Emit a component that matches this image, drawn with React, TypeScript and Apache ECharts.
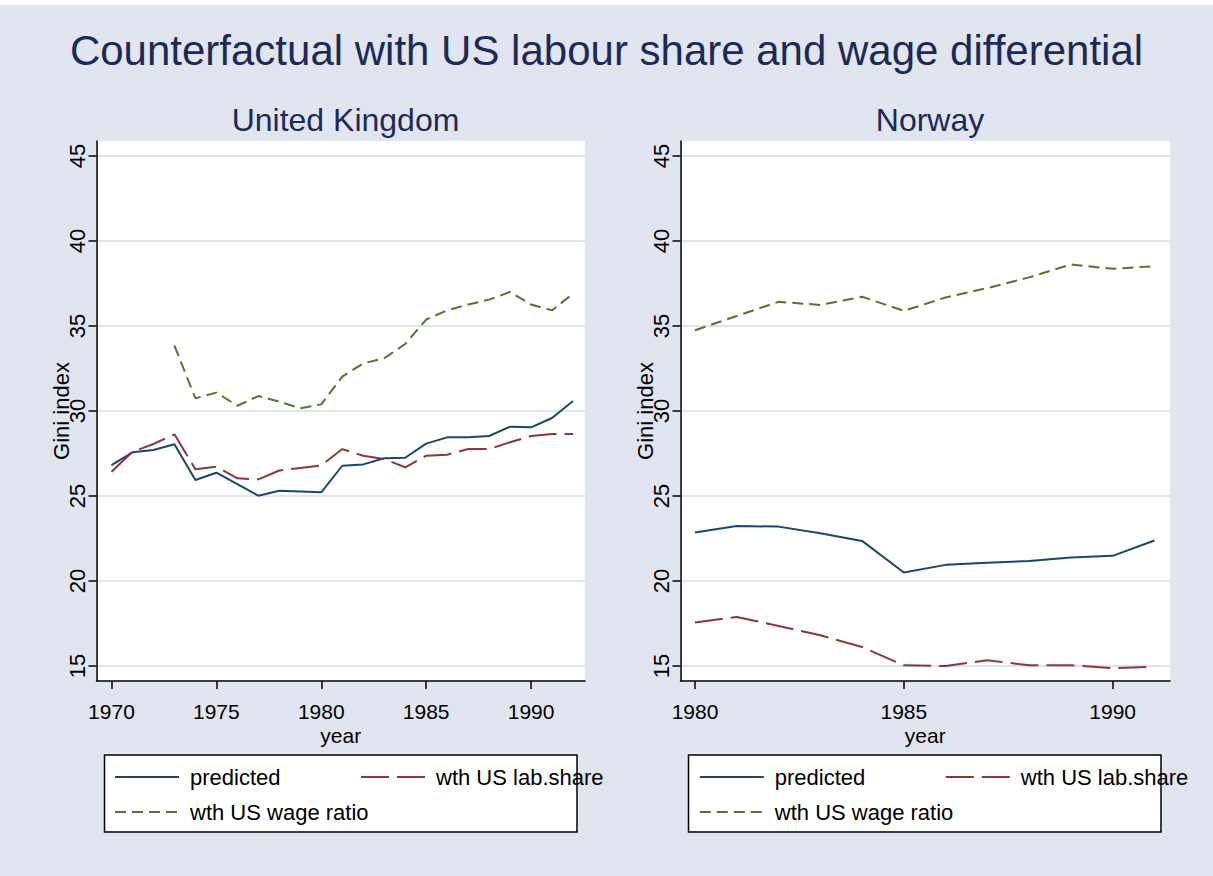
import React, { useEffect, useRef } from "react";
import * as echarts from "echarts";

// ---------- data ----------
const ukYears = [1970, 1971, 1972, 1973, 1974, 1975, 1976, 1977, 1978, 1979, 1980, 1981, 1982, 1983, 1984, 1985, 1986, 1987, 1988, 1989, 1990, 1991, 1992];
const ukPredicted = [26.82, 27.57, 27.71, 28.04, 25.94, 26.37, 25.7, 25.02, 25.31, 25.27, 25.22, 26.78, 26.86, 27.22, 27.25, 28.08, 28.45, 28.45, 28.53, 29.08, 29.04, 29.59, 30.59];
const ukLabShare = [26.43, 27.6, 28.06, 28.63, 26.57, 26.72, 26.04, 25.98, 26.5, 26.65, 26.8, 27.76, 27.37, 27.18, 26.69, 27.37, 27.43, 27.76, 27.76, 28.16, 28.53, 28.65, 28.65];
const ukWageRatio = [null, null, null, 33.84, 30.75, 31.08, 30.31, 30.88, 30.55, 30.16, 30.39, 32.02, 32.8, 33.1, 33.94, 35.38, 35.92, 36.26, 36.55, 37.0, 36.26, 35.92, 36.9];

const noYears = [1980, 1981, 1982, 1983, 1984, 1985, 1986, 1987, 1988, 1989, 1990, 1991];
const noPredicted = [22.85, 23.24, 23.2, 22.81, 22.36, 20.5, 20.95, 21.08, 21.18, 21.38, 21.48, 22.38];
const noLabShare = [17.56, 17.89, 17.36, 16.81, 16.12, 15.04, 15.0, 15.34, 15.04, 15.04, 14.88, 14.96];
const noWageRatio = [34.75, 35.59, 36.42, 36.24, 36.72, 35.89, 36.68, 37.23, 37.86, 38.62, 38.36, 38.52];

const yTicks = [15, 20, 25, 30, 35, 40, 45];
const ukXTicks = [1970, 1975, 1980, 1985, 1990];
const noXTicks = [1980, 1985, 1990];

const seriesNames = ["predicted", "wth US lab.share", "wth US wage ratio"];
const mainTitle = "Counterfactual with US labour share and wage differential";
const panelTitles = ["United Kingdom", "Norway"];
const yName = "Gini index";
const xName = "year";

// ---------- styles ----------
const FONT = "'Liberation Sans', Arial, Helvetica, sans-serif";
const BG = "#e0e5f0";
const NAVY = "#1a476f";
const MAROON = "#90353b";
const GREEN = "#55752f";
const TITLE_COLOR = "#1e2a55";
const GRID_COLOR = "#dfe4ef";

function pairs(years: number[], vals: (number | null)[]) {
  const out: [number, number][] = [];
  years.forEach((y, i) => {
    const v = vals[i];
    if (v !== null && v !== undefined) out.push([y, v]);
  });
  return out;
}

function yAxis(gridIndex: number) {
  return {
    type: "value",
    gridIndex,
    min: 14.12,
    max: 45.88,
    name: yName,
    nameLocation: "middle",
    nameGap: 24,
    nameMoveOverlap: false,
    nameTextStyle: { fontSize: 22, color: "#000", fontFamily: FONT },
    axisLine: { show: true, lineStyle: { color: "#000", width: 1.5 } },
    axisTick: { show: true, length: 8, lineStyle: { color: "#000", width: 1.5 }, customValues: yTicks },
    axisLabel: {
      rotate: 90,
      margin: 8,
      fontSize: 22,
      color: "#000",
      fontFamily: FONT,
      customValues: yTicks,
      formatter: (v: number) => String(v),
    },
    splitLine: { show: true, lineStyle: { color: GRID_COLOR, width: 2 } },
  };
}

function xAxis(gridIndex: number, min: number, max: number, ticks: number[]) {
  return {
    type: "value",
    gridIndex,
    min,
    max,
    name: xName,
    nameLocation: "middle",
    nameGap: 45,
    nameMoveOverlap: false,
    nameTextStyle: { fontSize: 21, lineHeight: 18, color: "#000", fontFamily: FONT },
    axisLine: { show: true, onZero: false, lineStyle: { color: "#000", width: 1.5 } },
    axisTick: { show: true, length: 8, lineStyle: { color: "#000", width: 1.5 }, customValues: ticks },
    axisLabel: {
      margin: 21,
      fontSize: 21,
      lineHeight: 18,
      color: "#000",
      fontFamily: FONT,
      customValues: ticks,
      formatter: (v: number) => String(v),
    },
    splitLine: { show: false },
  };
}

const lineStyles = [
  { color: NAVY, width: 2, type: "solid" },
  { color: MAROON, width: 2, type: [28, 8] },
  { color: GREEN, width: 2, type: [11, 6] },
];

function makeSeries(idx: number, years: number[], vals: (number | null)[], axisIndex: number) {
  return {
    type: "line",
    name: seriesNames[idx],
    xAxisIndex: axisIndex,
    yAxisIndex: axisIndex,
    data: pairs(years, vals),
    symbol: "none",
    showSymbol: false,
    color: lineStyles[idx].color,
    lineStyle: lineStyles[idx],
    silent: true,
  };
}

function legendItem(name: string, left: number, top: number) {
  return {
    show: true,
    left,
    top,
    orient: "horizontal",
    padding: 0,
    itemWidth: 64,
    itemHeight: 24,
    itemGap: 0,
    itemTextGap: 12,
    selectedMode: false,
    data: [name],
    itemStyle: { color: "rgba(0,0,0,0)", borderWidth: 0, opacity: 0 },
    textStyle: { fontSize: 22, color: "#000", lineHeight: 24, fontFamily: FONT, padding: [0, 0, 0, 6] },
  };
}

export default function App() {
  const ref = useRef<HTMLDivElement>(null);

  useEffect(() => {
    if (!ref.current) return;
    const chart = echarts.init(ref.current, null, { renderer: "svg" });

    const legendOffsetNO = 584.8;
    const option: any = {
      animation: false,
      backgroundColor: BG,
      textStyle: { fontFamily: FONT },
      title: [
        {
          text: mainTitle,
          left: "center",
          top: 24,
          textStyle: { fontSize: 42, fontWeight: "normal", color: TITLE_COLOR, fontFamily: FONT },
        },
        {
          text: panelTitles[0],
          left: 340.5,
          textAlign: "center",
          top: 99,
          textStyle: { fontSize: 32, fontWeight: "normal", color: TITLE_COLOR, fontFamily: FONT },
        },
        {
          text: panelTitles[1],
          left: 925,
          textAlign: "center",
          top: 99,
          textStyle: { fontSize: 32, fontWeight: "normal", color: TITLE_COLOR, fontFamily: FONT },
        },
      ],
      grid: [
        { left: 96.5, top: 141, width: 488.5, height: 540, show: true, backgroundColor: "#fff", borderWidth: 0, containLabel: false },
        { left: 680.5, top: 141, width: 489.5, height: 540, show: true, backgroundColor: "#fff", borderWidth: 0, containLabel: false },
      ],
      xAxis: [
        xAxis(0, 1969.286, 1992.571, ukXTicks),
        xAxis(1, 1979.653, 1991.372, noXTicks),
      ],
      yAxis: [yAxis(0), yAxis(1)],
      legend: [
        legendItem(seriesNames[0], 114, 765),
        legendItem(seriesNames[1], 360, 765),
        legendItem(seriesNames[2], 114, 800),
        legendItem(seriesNames[0], 114 + legendOffsetNO, 765),
        legendItem(seriesNames[1], 360 + legendOffsetNO, 765),
        legendItem(seriesNames[2], 114 + legendOffsetNO, 800),
      ],
      graphic: [
        { type: "rect", z: -1, shape: { x: 0, y: 0, width: 1213, height: 5 }, style: { fill: "#fff" } },
        { type: "rect", z: -1, shape: { x: 104.5, y: 755, width: 472.5, height: 77 }, style: { fill: "#fff", stroke: "#000", lineWidth: 1.5 } },
        { type: "rect", z: -1, shape: { x: 688.5, y: 755, width: 472.5, height: 77 }, style: { fill: "#fff", stroke: "#000", lineWidth: 1.5 } },
      ],
      series: [
        makeSeries(0, ukYears, ukPredicted, 0),
        makeSeries(1, ukYears, ukLabShare, 0),
        makeSeries(2, ukYears, ukWageRatio, 0),
        makeSeries(0, noYears, noPredicted, 1),
        makeSeries(1, noYears, noLabShare, 1),
        makeSeries(2, noYears, noWageRatio, 1),
      ],
    };

    chart.setOption(option);
    return () => chart.dispose();
  }, []);

  return (
    <div
      ref={ref}
      style={{ position: "absolute", left: 0, top: 0, width: 1213, height: 876 }}
    />
  );
}
